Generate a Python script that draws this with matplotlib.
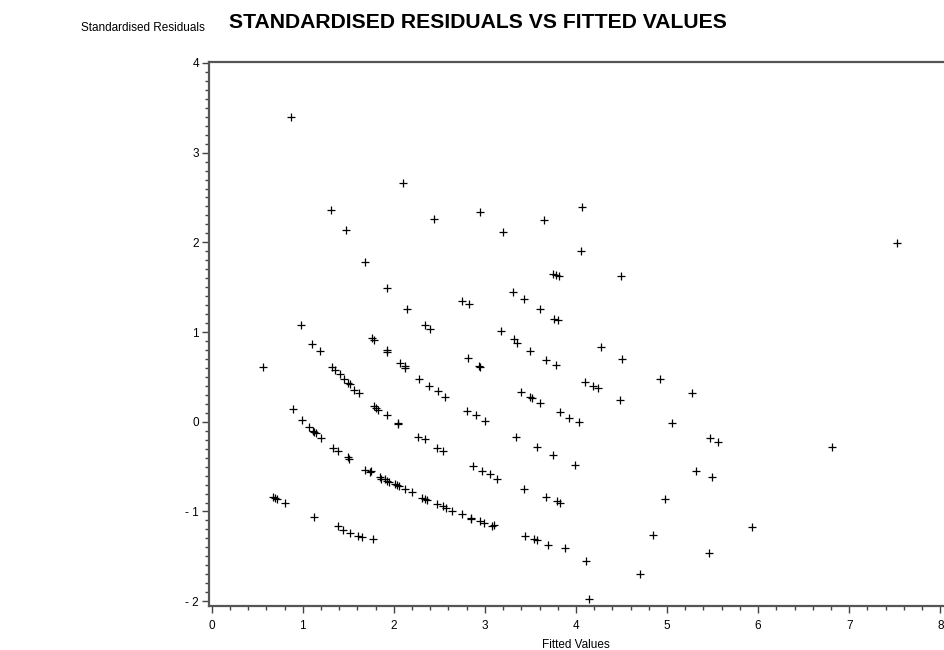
import matplotlib.pyplot as plt
from matplotlib.ticker import MultipleLocator, FuncFormatter

# fitted values and standardised residuals, one diagonal band at a time
fitted = [
    0.875, 1.306, 1.471, 2.104, 2.44, 2.942, 3.198, 3.644, 4.065, 4.054, 4.497,
    3.751, 3.784, 3.812, 3.304, 3.428, 2.752, 2.821, 3.600, 3.759, 3.803,
    1.679, 1.925, 2.144, 2.342, 2.40,
    0.977, 1.101, 1.189, 0.563,
    1.76, 1.786, 1.921, 1.921, 2.067, 2.119, 2.126, 2.276, 2.386, 2.481, 2.565,
    1.325, 1.354, 1.405, 1.453, 1.493, 1.522, 1.566, 1.614,
    0.889, 0.991, 1.068, 1.112, 1.127, 1.145, 1.204, 1.328, 1.391, 1.493, 1.508,
    1.683, 1.738, 1.753, 1.844, 1.863, 1.899, 1.921, 1.947, 2.009, 2.034, 2.056,
    2.122, 2.199, 2.313, 2.341, 2.368, 2.473, 2.536, 2.569, 2.637, 2.747, 2.846,
    2.843, 2.945, 2.989, 3.081, 3.095,
    1.778, 1.800, 1.826, 1.921, 2.045, 2.045, 2.269, 2.338, 2.473, 2.539, 2.868,
    2.967, 3.055, 3.136,
    3.176, 3.315, 3.356, 3.494, 3.674, 3.784,
    2.818, 2.934, 2.95,
    4.277, 4.50, 4.925, 5.272,
    4.101, 4.185, 4.237,
    3.395, 3.498, 3.52, 3.600, 4.482,
    2.807, 2.898, 3.0,
    3.82, 3.924, 4.03, 5.053, 3.337, 5.474, 5.562,
    3.575, 3.747, 3.985,
    3.425, 3.674, 3.79, 3.827,
    4.976, 5.316, 5.492,
    3.436, 3.542, 3.575, 3.696, 3.884, 4.109, 4.142, 4.698, 4.848, 5.466,
    0.670, 0.699, 0.717, 0.805,
    1.120, 1.391, 1.442, 1.515, 1.603, 1.647, 1.771,
    5.93, 6.81, 7.52,
]
resid = [
    3.40, 2.362, 2.138, 2.664, 2.257, 2.335, 2.12, 2.246, 2.399, 1.907, 1.625,
    1.650, 1.636, 1.625, 1.449, 1.371, 1.341, 1.312, 1.256, 1.144, 1.133,
    1.781, 1.490, 1.256, 1.084, 1.032,
    1.084, 0.872, 0.790, 0.611,
    0.935, 0.913, 0.805, 0.779, 0.652, 0.619, 0.600, 0.480, 0.399, 0.340, 0.276,
    0.615, 0.574, 0.529, 0.480, 0.429, 0.418, 0.354, 0.317,
    0.138, 0.019, -0.056, -0.10, -0.115, -0.13, -0.182, -0.29, -0.331, -0.394, -0.413,
    -0.532, -0.559, -0.547, -0.614, -0.640, -0.637, -0.659, -0.670, -0.688, -0.707, -0.718,
    -0.749, -0.785, -0.845, -0.86, -0.875, -0.912, -0.942, -0.956, -0.99, -1.028, -1.068,
    -1.087, -1.109, -1.124, -1.162, -1.154,
    0.179, 0.156, 0.131, 0.072, -0.011, -0.029, -0.171, -0.197, -0.29, -0.324, -0.495,
    -0.547, -0.581, -0.64,
    1.010, 0.921, 0.883, 0.793, 0.693, 0.630,
    0.708, 0.619, 0.611,
    0.838, 0.697, 0.48, 0.324,
    0.447, 0.399, 0.380,
    0.328, 0.276, 0.261, 0.209, 0.246,
    0.123, 0.071, 0.008,
    0.105, 0.045, -0.007, -0.018, -0.171, -0.186, -0.223,
    -0.286, -0.372, -0.48,
    -0.752, -0.841, -0.886, -0.908,
    -0.860, -0.547, -0.618,
    -1.277, -1.307, -1.322, -1.374, -1.408, -1.549, -1.970, -1.702, -1.258, -1.459,
    -0.834, -0.845, -0.860, -0.90,
    -1.057, -1.165, -1.21, -1.236, -1.27, -1.285, -1.303,
    -1.175, -0.28, 1.99,
]

plt.rcParams['font.family'] = ['Liberation Sans', 'DejaVu Sans']

fig = plt.figure(figsize=(9.45, 6.5), dpi=100)
ax = fig.add_axes([208.7 / 945, 1 - 605.7 / 650, 734.3 / 945, (605.7 - 62) / 650])

ax.scatter(fitted, resid, marker='+', s=30, c='black', linewidths=0.9)

ax.set_xlim(-0.033, 8.03)
ax.set_ylim(-2.05, 4.01)

ax.xaxis.set_major_locator(MultipleLocator(1))
ax.xaxis.set_minor_locator(MultipleLocator(0.2))
ax.yaxis.set_major_locator(MultipleLocator(1))
ax.yaxis.set_minor_locator(MultipleLocator(0.1))

# SAS style minus sign with a gap
ax.yaxis.set_major_formatter(FuncFormatter(lambda v, p: ('- %d' % -v) if v < 0 else '%d' % v))

ax.tick_params(which='major', direction='out', length=5, width=1, color='#444444',
               labelsize=8.5, pad=2)
ax.tick_params(which='minor', direction='out', length=3, width=1, color='#444444')
ax.tick_params(axis='x', which='major', pad=5)

ax.spines['right'].set_visible(False)
for s in ['top', 'left', 'bottom']:
    ax.spines[s].set_color('#555555')
    ax.spines[s].set_linewidth(1.6)

fig.text(477.5 / 945, 1 - 22 / 650, 'STANDARDISED RESIDUALS VS FITTED VALUES',
         ha='center', va='center', fontsize=15.2, fontweight='bold')
fig.text(205 / 945, 1 - 28 / 650, 'Standardised Residuals', ha='right', va='center',
         fontsize=8.5)
fig.text(576 / 945, 1 - 645 / 650, 'Fitted Values', ha='center', va='center',
         fontsize=8.5)

plt.savefig('out.png', dpi=100)
